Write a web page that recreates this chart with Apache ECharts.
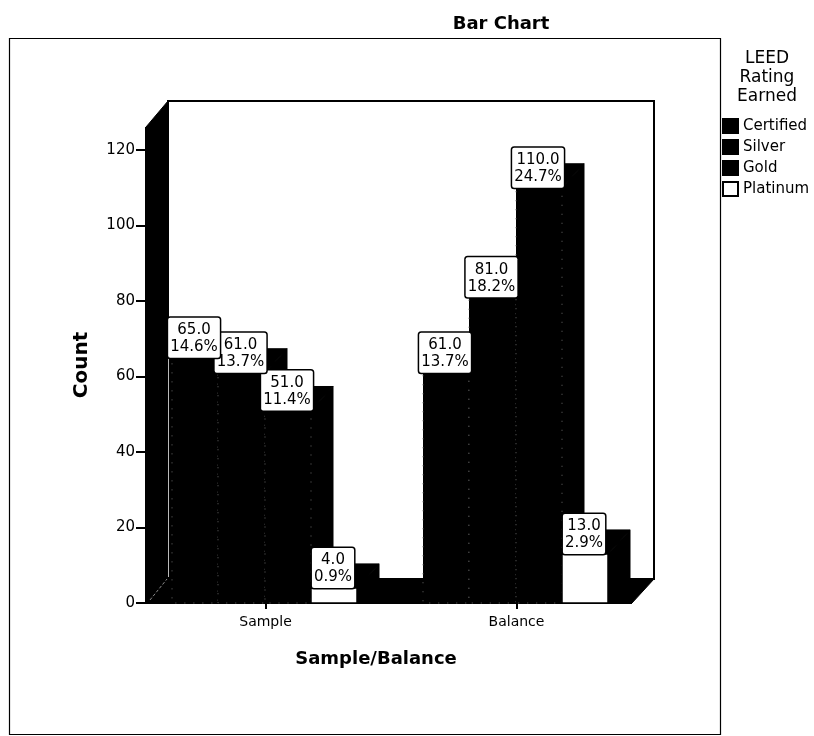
<!DOCTYPE html>
<html><head><meta charset="utf-8">
<style>html,body{margin:0;padding:0;background:#fff}#c{width:814px;height:736px}</style>
<script src="https://cdn.jsdelivr.net/npm/echarts@6/dist/echarts.min.js"></script>
</head><body><div id="c"></div>
<script>
const categories = ['Sample', 'Balance'];
const ratings = ['Certified', 'Silver', 'Gold', 'Platinum'];
const certified = [65, 61];
const silver = [61, 81];
const gold = [51, 110];
const platinum = [4, 13];
const certifiedPct = ['14.6%', '13.7%'];
const silverPct = ['13.7%', '18.2%'];
const goldPct = ['11.4%', '24.7%'];
const platinumPct = ['0.9%', '2.9%'];
const yTicks = [0, 20, 40, 60, 80, 100, 120];

const FONT = '"DejaVu Sans", sans-serif';
const DX = 22, DY = -24, BAR = 46.3;
const values = [certified, silver, gold, platinum];
const pcts = [certifiedPct, silverPct, goldPct, platinumPct];

function makeSeries(si) {
  const fill = si === 3 ? '#fff' : '#000';
  return {
    type: 'custom', name: ratings[si],
    coordinateSystem: 'cartesian2d',
    clip: false, silent: true, z: 3,
    itemStyle: { color: fill, borderColor: '#000', borderWidth: 1 },
    encode: { x: 0, y: 1 },
    data: categories.map((c, i) => [i, values[si][i], pcts[si][i]]),
    renderItem(params, api) {
      const top = api.coord([api.value(0), api.value(1)]);
      const base = api.coord([api.value(0), 0]);
      const x0 = Math.round(top[0] + (si - 2) * BAR) - 1;
      const x1 = Math.round(top[0] + (si - 1) * BAR) - 1;
      const yT = top[1], yB = base[1];
      const kids = [
        { type: 'polygon', z2: 1, shape: { points: [[x1, yT], [x1 + DX, yT + DY], [x1 + DX, yB + DY], [x1, yB]] },
          style: { fill: '#000', stroke: '#000' } },
        { type: 'polygon', z2: 1, shape: { points: [[x0, yT], [x0 + DX, yT + DY], [x1 + DX, yT + DY], [x1, yT]] },
          style: { fill: '#000', stroke: '#000' } },
        { type: 'rect', z2: 2, shape: { x: x0, y: yT, width: x1 - x0, height: yB - yT },
          style: si === 3 ? { fill: '#fff', stroke: '#000', lineWidth: 1.5 }
                          : { fill: '#000', stroke: '#666', lineWidth: 1, lineDash: [1, 8] } },
        { type: 'text', z2: 20 - si, x: (x0 + x1) / 2 - 1, y: yT,
          style: { text: api.value(1).toFixed(1) + '\n' + pcts[si][api.value(0)],
            align: 'center', verticalAlign: 'bottom', font: '15px ' + FONT, lineHeight: 17, fill: '#000',
            backgroundColor: '#fff', borderColor: '#000', borderWidth: 1.5, borderRadius: 2,
            padding: [4, 2, 2, 2] } }
      ];
      return { type: 'group', children: kids };
    }
  };
}

const chart = echarts.init(document.getElementById('c'), null, { renderer: 'canvas' });
chart.setOption({
  animation: false,
  backgroundColor: '#fff',
  title: [
    { text: 'Bar Chart', left: 496, top: 10, textAlign: 'center',
      textStyle: { fontFamily: FONT, fontSize: 18, fontWeight: 'bold', color: '#000' } },
    { text: 'LEED\nRating\nEarned', left: 762, top: 44, textAlign: 'center',
      textStyle: { fontFamily: FONT, fontSize: 17, fontWeight: 'normal', color: '#000', lineHeight: 19 } }
  ],
  legend: {
    orient: 'vertical', left: 722, top: 118, itemWidth: 15, itemHeight: 14, itemGap: 5,
    icon: 'rect', selectedMode: false, data: ratings, padding: 0,
    textStyle: { fontFamily: FONT, fontSize: 15, color: '#000', padding: [0, 0, 0, 0] }
  },
  grid: { left: 140, top: 127, width: 502, height: 476 },
  xAxis: {
    type: 'category', data: categories,
    name: 'Sample/Balance', nameLocation: 'middle', nameGap: 47,
    nameTextStyle: { fontFamily: FONT, fontSize: 18, fontWeight: 'bold', color: '#000', padding: [0, 30, 0, 0], align: 'center' },
    axisLine: { show: false },
    axisTick: { show: true, alignWithLabel: true, length: 6, lineStyle: { color: '#000', width: 2 } },
    axisLabel: { fontFamily: FONT, fontSize: 14, color: '#000', margin: 12 }
  },
  yAxis: {
    type: 'value', min: 0, max: 126.1, offset: -6,
    name: 'Count', nameLocation: 'middle', nameGap: 54,
    nameTextStyle: { fontFamily: FONT, fontSize: 20, fontWeight: 'bold', color: '#000' },
    splitLine: { show: false },
    axisLine: { show: false },
    axisTick: { show: true, length: 10, customValues: yTicks, lineStyle: { color: '#000', width: 2 } },
    axisLabel: { fontFamily: FONT, fontSize: 15, color: '#000', margin: 11, customValues: yTicks }
  },
  graphic: [
    { type: 'rect', z: -10, shape: { x: 9.5, y: 38.5, width: 711, height: 696 }, style: { fill: '#fff', stroke: '#000', lineWidth: 1.2 } },
    { type: 'rect', z: 0, shape: { x: 168, y: 101, width: 486, height: 478 }, style: { fill: '#fff', stroke: '#000', lineWidth: 2 } },
    { type: 'polygon', z: 0, shape: { points: [[146, 127], [168, 101], [168, 579], [146, 603]] }, style: { fill: '#000', stroke: '#000' } },
    { type: 'polygon', z: 0, shape: { points: [[146, 603], [168, 579], [654, 579], [632, 603]] }, style: { fill: '#000', stroke: '#000' } },
    { type: 'rect', z: 0, shape: { x: 168, y: 358, width: 6, height: 245 }, style: { fill: '#000' } },
    { type: 'line', z: 1, shape: { x1: 168.5, y1: 358, x2: 168.5, y2: 577 }, style: { stroke: '#bbb', lineWidth: 1 } },
    { type: 'line', z: 1, shape: { x1: 150, y1: 600, x2: 167, y2: 579 }, style: { stroke: '#888', lineWidth: 1, lineDash: [3, 2] } },
    { type: 'line', z: 1, shape: { x1: 146, y1: 127, x2: 146, y2: 603 }, style: { stroke: '#000', lineWidth: 2 } },
    { type: 'line', z: 1, shape: { x1: 146, y1: 603, x2: 632, y2: 603 }, style: { stroke: '#000', lineWidth: 2 } }
  ],
  series: [0, 1, 2, 3].map(makeSeries)
});
</script></body></html>
